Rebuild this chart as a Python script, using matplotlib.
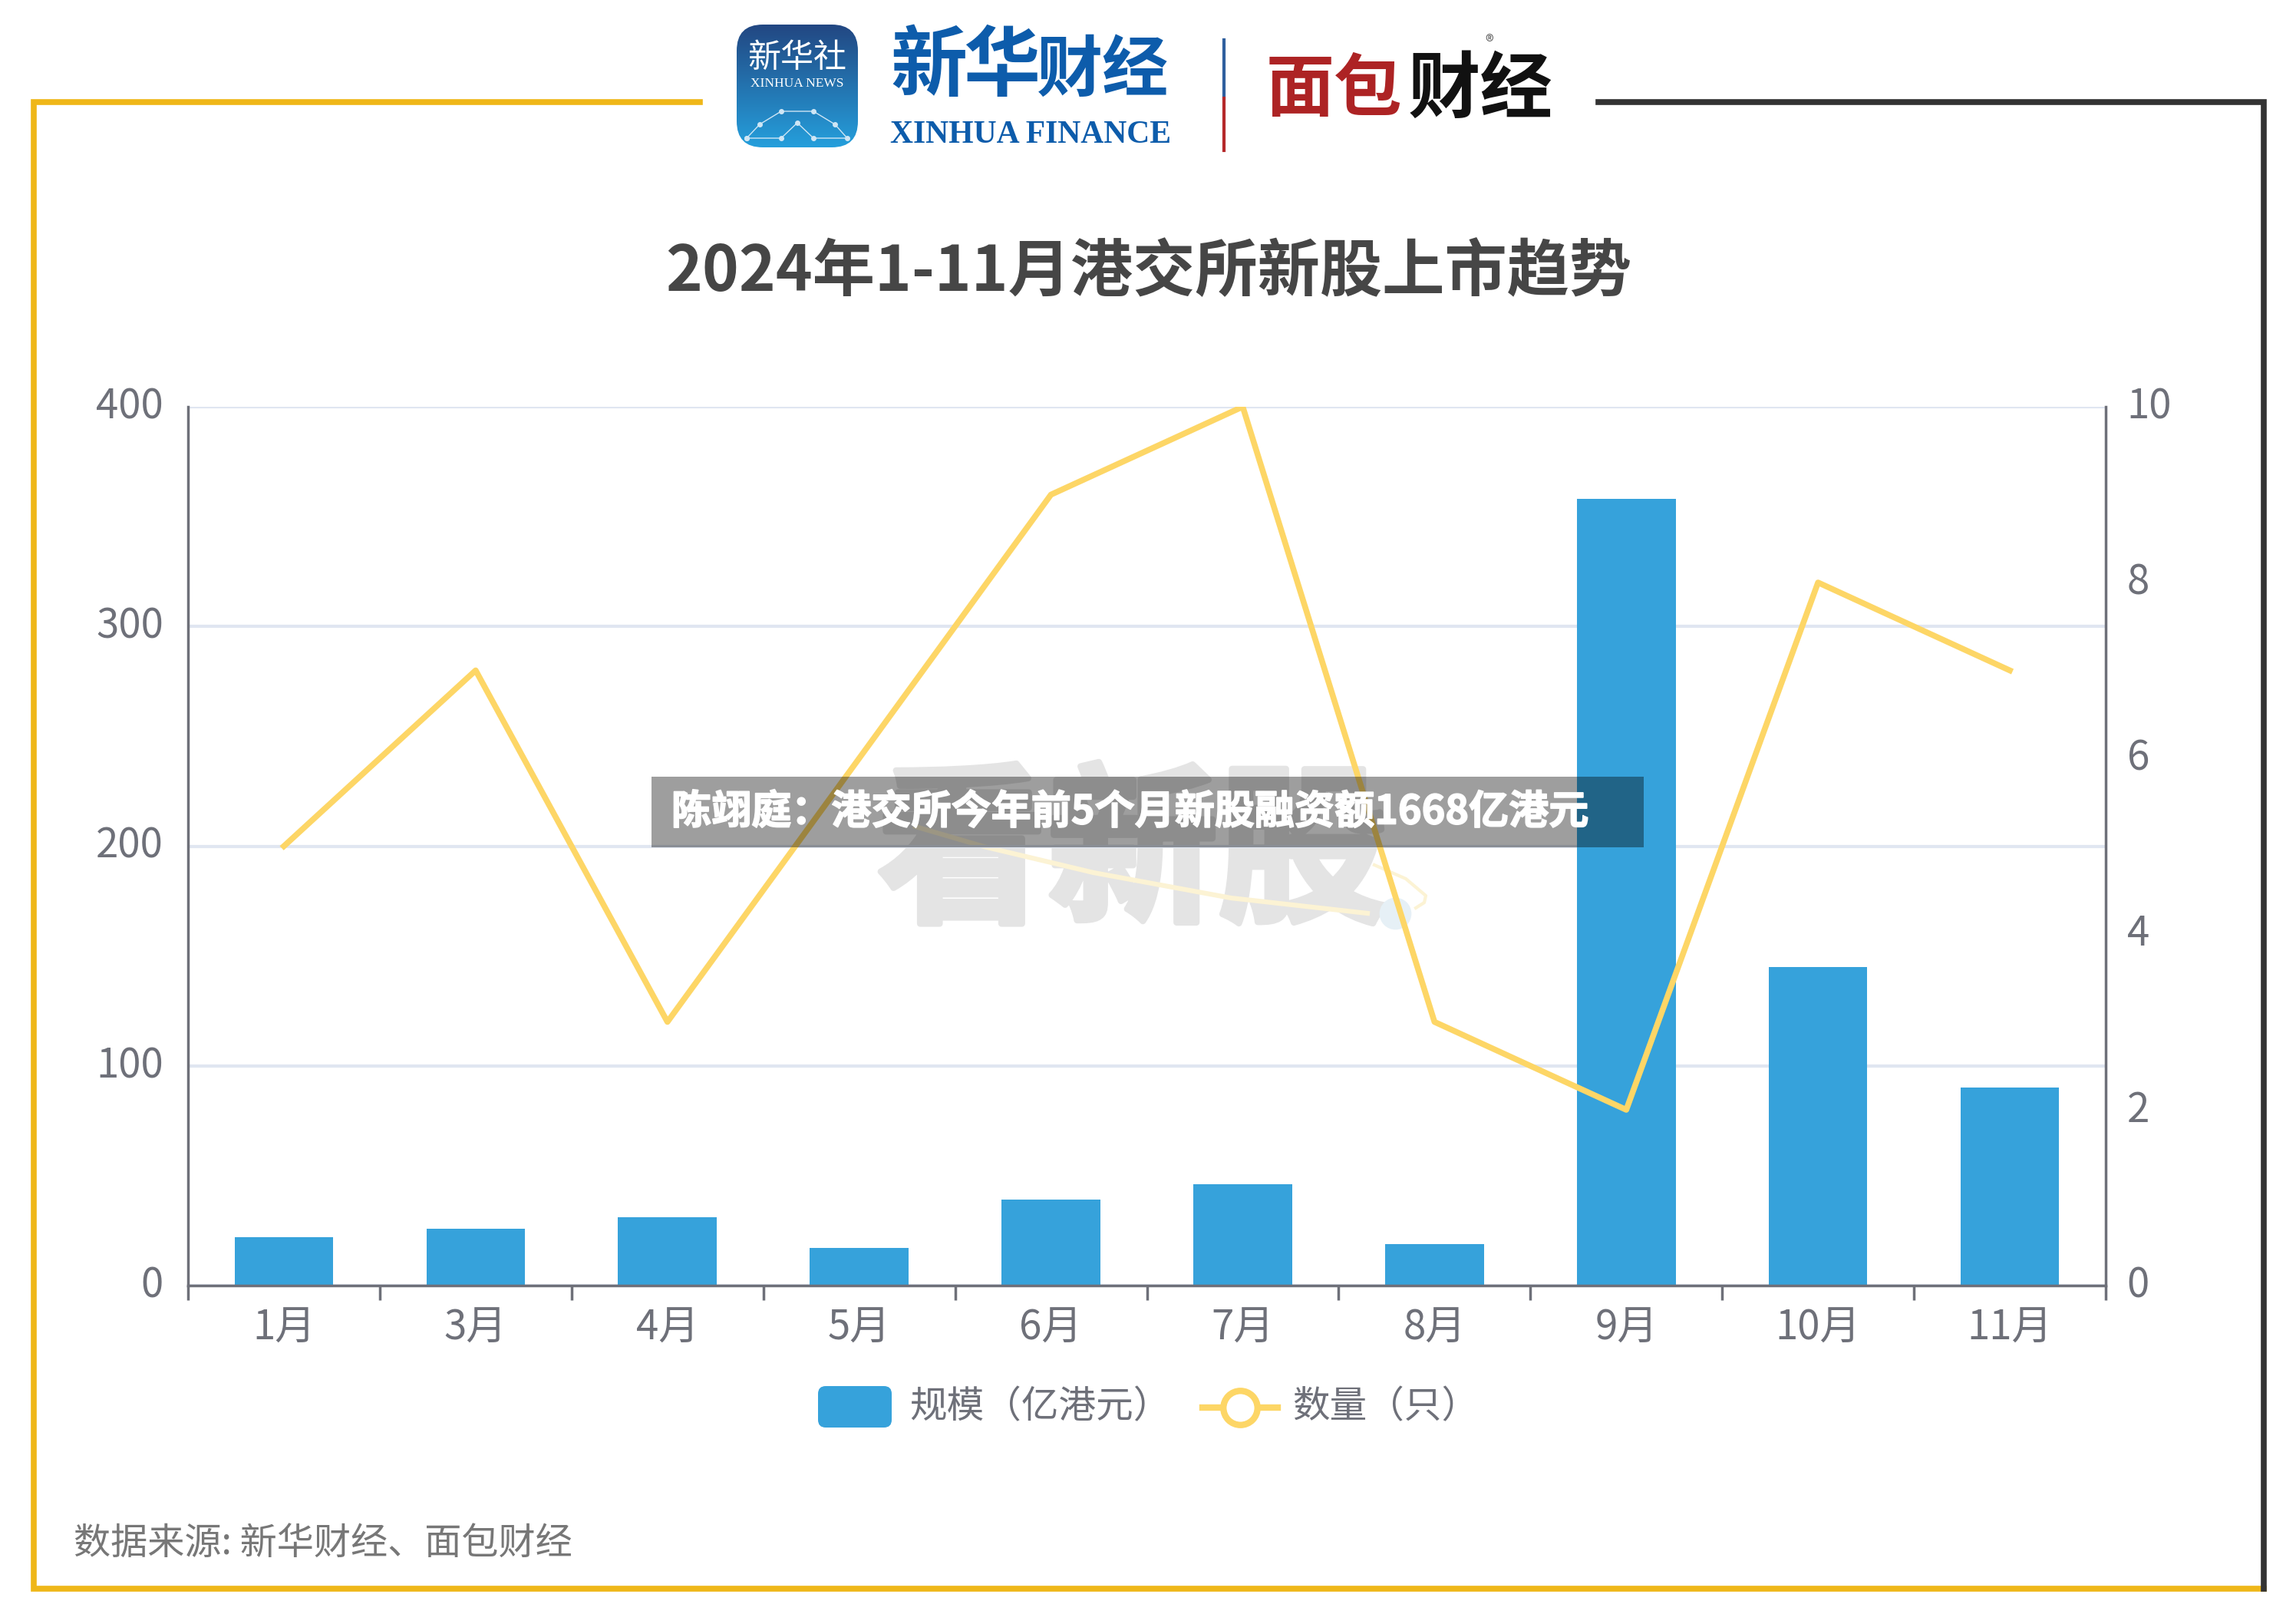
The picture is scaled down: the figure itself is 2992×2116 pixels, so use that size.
import numpy as np
import matplotlib
matplotlib.use('Agg')
import matplotlib.pyplot as plt
import matplotlib.patheffects as pe
from matplotlib.patches import Rectangle, FancyBboxPatch
from matplotlib.lines import Line2D
from matplotlib.transforms import ScaledTranslation

plt.rcParams['font.family'] = ['Noto Sans CJK SC', 'DejaVu Sans']

months = ['1月', '3月', '4月', '5月', '6月', '7月', '8月', '9月', '10月', '11月']
scale = [22, 26, 31, 17, 39, 46, 19, 358, 145, 90]
count = [5, 7, 3, 6, 9, 10, 3, 2, 8, 7]
left_ticks = [0, 100, 200, 300, 400]
right_ticks = [0, 2, 4, 6, 8, 10]

W, H = 2992, 2116
BLUE = '#36a2db'
YELLOW = '#fdd666'
GRAY = '#6e7079'

fig = plt.figure(figsize=(W / 100, H / 100), dpi=100, facecolor='white')

# full-size pixel layer for frame, logos, watermark
bg = fig.add_axes([0, 0, 1, 1], zorder=0)
bg.set_xlim(0, W)
bg.set_ylim(H, 0)
bg.axis('off')

gold = '#efb718'
dark = '#333333'
bg.plot([912, 44, 44, 2950], [133, 133, 2070, 2070], color=gold, lw=5.5, solid_joinstyle='miter')
bg.plot([2083, 2950, 2950], [133, 133, 2070], color=dark, lw=5.5, solid_joinstyle='miter')

# xinhua app icon
grad = np.linspace(0, 1, 200)[:, None]
top_c = np.array([0x22, 0x47, 0x82]) / 255
bot_c = np.array([0x25, 0x9f, 0xdc]) / 255
img = top_c[None, :] * (1 - grad) + bot_c[None, :] * grad
icon = bg.imshow(img[:, None, :], extent=[960, 1118, 192, 32], aspect='auto', zorder=1)
clip = FancyBboxPatch((972, 44), 134, 136, boxstyle='round,pad=12,rounding_size=34',
                      transform=bg.transData, fc='none', ec='none')
bg.add_patch(clip)
icon.set_clip_path(clip)
bg.set_xlim(0, W)
bg.set_ylim(H, 0)
bg.text(1039, 76, '新华社', color='white', fontsize=31, ha='center', va='center', zorder=2)
bg.text(1039, 109, 'XINHUA NEWS', color='white', fontsize=12.5, family='Liberation Serif',
        ha='center', va='center', zorder=2)
net_x = [973, 990, 1018, 1060, 1088, 1104, 1060, 1039, 1018, 973]
net_y = [180, 162, 145, 145, 162, 180, 180, 160, 180, 180]
bg.plot(net_x, net_y, color='#cfe6f5', lw=1, marker='o', ms=4, zorder=2)

# xinhua finance wordmark
bg.text(1210, 88, '新', color='#0d5cab', fontsize=72, weight='bold', ha='center', va='center')
bg.text(1305, 88, '华', color='#0d5cab', fontsize=72, weight='bold', ha='center', va='center')
bg.text(1437, 93, '财经', color='#0d5cab', fontsize=62, weight='bold', ha='center', va='center')
bg.text(1160, 176, 'XINHUA FINANCE', color='#0d5cab', fontsize=30, weight='bold',
        family='Liberation Serif', ha='left', va='center')
bg.plot([1595, 1595], [52, 128], color='#2f5f9e', lw=3)
bg.plot([1595, 1595], [128, 196], color='#b5282a', lw=3)

# mianbao wordmark
bg.text(1738, 118, '面包', color='#ad2324', fontsize=64, weight='bold', ha='center', va='center')
bg.text(1929, 118, '财经', color='#111111', fontsize=68, weight='bold', ha='center', va='center')
bg.text(1941, 56, '®', color='#555555', fontsize=16, ha='center', va='center')

bg.text(1497, 355, '2024年1-11月港交所新股上市趋势', color='#464646', fontsize=58.5,
        weight='bold', ha='center', va='center')
bg.text(96, 2011, '数据来源: 新华财经、面包财经', color='#777777', fontsize=34.7, ha='left', va='center')

# watermark sits under the chart
bg.text(1476, 1118, '看新股', color='#e4e4e4', fontsize=160, weight='bold',
        ha='center', va='center', zorder=1,
        path_effects=[pe.withStroke(linewidth=6, foreground='#e4e4e4')])
wx = [1193, 1282, 1425, 1604, 1782]
wy = [1077, 1103, 1137, 1170, 1190]
bg.plot(wx, wy, color='#fcf3d4', lw=4.5, zorder=2)
bg.plot([1791, 1832, 1858, 1856, 1845], [1127, 1145, 1167, 1176, 1183], color='#fcf3d4', lw=3, zorder=2)
bg.plot([1818], [1190], marker='o', ms=30, color='#e6f0f6', mec='none', zorder=2)

# chart
ax = fig.add_axes([245 / W, 1 - 1675 / H, 2499 / W, 1145 / H], zorder=1)
ax.patch.set_alpha(0)
x = np.arange(len(months))
ax.bar(x, scale, width=0.515, color=BLUE, zorder=2)
ax.set_xlim(-0.5, len(months) - 0.5)
ax.set_ylim(0, 400)
ax.set_yticks(left_ticks)
ax.set_xticks(x, months)
ax.set_xticks(np.arange(len(months) + 1) - 0.5, minor=True)
ax.tick_params(axis='x', which='major', length=0, pad=20, labelsize=38, labelcolor=GRAY)
ax.tick_params(axis='x', which='minor', length=14, width=2.5, color=GRAY)
ax.tick_params(axis='y', length=0, pad=23, labelsize=38, labelcolor=GRAY)
ax.grid(axis='y', color='#e0e6f1', lw=3, zorder=0)
ax.spines['top'].set_visible(False)
ax.spines['right'].set_visible(False)
for s in ['left', 'bottom']:
    ax.spines[s].set_color(GRAY)
    ax.spines[s].set_linewidth(2.5)

ax2 = ax.twinx()
ax2.plot(x, count, color=YELLOW, lw=5.5, solid_joinstyle='round', zorder=3)
ax2.set_ylim(0, 10)
ax2.set_yticks(right_ticks)
ax2.tick_params(axis='y', length=0, pad=20, labelsize=38, labelcolor=GRAY)
for s in ['top', 'left', 'bottom']:
    ax2.spines[s].set_visible(False)
ax2.spines['right'].set_color(GRAY)
ax2.spines['right'].set_linewidth(2.5)

# y labels sit a little above their gridlines
lift = ScaledTranslation(0, 6 / 100, fig.dpi_scale_trans)
for lab in ax.get_yticklabels() + ax2.get_yticklabels():
    lab.set_transform(lab.get_transform() + lift)

# legend + banner, in pixels, on top of chart
top = fig.add_axes([0, 0, 1, 1], zorder=3)
top.set_xlim(0, W)
top.set_ylim(H, 0)
top.axis('off')
top.patch.set_alpha(0)
top.add_patch(FancyBboxPatch((1070, 1810), 88, 46, boxstyle='round,pad=4,rounding_size=10', fc=BLUE, ec='none'))
top.text(1185, 1834, '规模（亿港元）', color=GRAY, fontsize=35, ha='left', va='center')
top.add_line(Line2D([1567, 1665], [1834, 1834], color=YELLOW, lw=6))
top.plot([1616], [1834], marker='o', ms=32, mfc='white', mec=YELLOW, mew=6)
top.text(1684, 1834, '数量（只）', color=GRAY, fontsize=35, ha='left', va='center')

top.add_patch(Rectangle((849, 1012), 1293, 92, fc='black', alpha=0.38, ec='none', zorder=3))
top.text(875, 1058, '陈翊庭：港交所今年前5个月新股融资额1668亿港元', color='white', fontsize=37.5, weight='bold',
         ha='left', va='center', zorder=4,
         path_effects=[pe.withStroke(linewidth=1.2, foreground='white')])

fig.savefig('out.png', dpi=100, facecolor='white')
